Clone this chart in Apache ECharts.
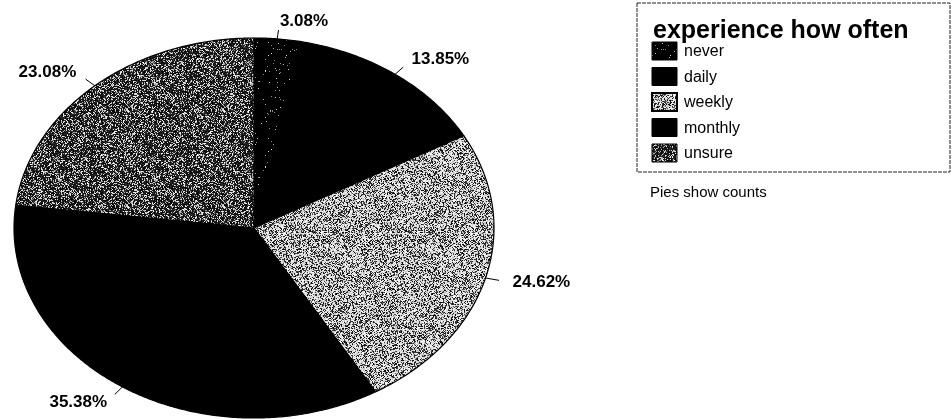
<!DOCTYPE html>
<html>
<head>
<meta charset="utf-8">
<script src="https://cdn.jsdelivr.net/npm/echarts@6/dist/echarts.min.js"></script>
<style>
  html, body { margin: 0; padding: 0; background: #ffffff; }
  #chart { width: 952px; height: 419px; }
</style>
</head>
<body>
<div id="chart"></div>
<script>
// Frequency categories and their share of responses (percent)
const categories = ['never', 'daily', 'weekly', 'monthly', 'unsure'];
const percents = [3.08, 13.85, 24.62, 35.38, 23.08];
const legendTitle = 'experience how often';
const footnote = 'Pies show counts';

// Elliptical pie geometry (pixels)
const cx = 254, cy = 228, rx = 240, ry = 190;

// Deterministic speckle texture so fills look like a halftone print
function speckle(kind, seed) {
  const size = 96;
  const c = document.createElement('canvas');
  c.width = size; c.height = size;
  const ctx = c.getContext('2d');
  const img = ctx.createImageData(size, size);
  let s = seed >>> 0;
  const rnd = () => { s = (s * 1664525 + 1013904223) >>> 0; return s / 4294967296; };
  for (let p = 0; p < size * size; p++) {
    const r = rnd();
    let v;
    if (kind === 'light') v = r < 0.38 ? Math.floor(rnd() * 90) : 190 + Math.floor(rnd() * 65);
    else if (kind === 'mid') v = r < 0.30 ? 150 + Math.floor(rnd() * 105) : Math.floor(rnd() * 50);
    else if (kind === 'sparse') v = r < 0.03 ? 120 + Math.floor(rnd() * 100) : 0;
    else v = 0;
    img.data[p * 4] = v; img.data[p * 4 + 1] = v; img.data[p * 4 + 2] = v; img.data[p * 4 + 3] = 255;
  }
  ctx.putImageData(img, 0, 0);
  return c;
}

const fills = {
  never: { image: speckle('sparse', 11), repeat: 'repeat' },
  daily: '#000000',
  weekly: { image: speckle('light', 23), repeat: 'repeat' },
  monthly: '#000000',
  unsure: { image: speckle('mid', 37), repeat: 'repeat' }
};

const total = percents.reduce((a, b) => a + b, 0);
const startAngles = [];
percents.reduce((acc, v, i) => { startAngles[i] = acc; return acc + v / total * 2 * Math.PI; }, 0);

function ellipsePoint(t, ex, ey) {
  return [cx + ex * Math.sin(t), cy - ey * Math.cos(t)];
}

function renderSlice(params, api) {
  const i = params.dataIndex;
  const a0 = startAngles[i];
  const a1 = a0 + api.value(0) / total * 2 * Math.PI;
  const n = Math.max(4, Math.ceil((a1 - a0) / 0.01));
  const pts = [[cx, cy]];
  for (let k = 0; k <= n; k++) pts.push(ellipsePoint(a0 + (a1 - a0) * k / n, rx, ry));
  return {
    type: 'polygon',
    shape: { points: pts },
    style: { fill: fills[categories[i]], stroke: '#000', lineWidth: 1.2 }
  };
}

function renderLabel(params, api) {
  const i = params.dataIndex;
  const a0 = startAngles[i];
  const mid = a0 + api.value(0) / total * Math.PI;
  const p0 = ellipsePoint(mid, rx, ry);
  const p1 = ellipsePoint(mid, rx + 14, ry + 9);
  const pt = ellipsePoint(mid, rx + 28, ry + 18);
  const right = Math.sin(mid) >= 0;
  return {
    type: 'group',
    children: [
      { type: 'line', shape: { x1: p0[0], y1: p0[1], x2: p1[0], y2: p1[1] },
        style: { stroke: '#000', lineWidth: 1 } },
      { type: 'text',
        style: { text: api.value(0).toFixed(2) + '%', x: pt[0], y: pt[1],
          align: right ? 'left' : 'right', verticalAlign: 'middle',
          font: 'bold 17px "Liberation Sans", Arial, sans-serif', fill: '#000' } }
    ]
  };
}

// Legend box drawn beside the pie
const legendX = 637, legendY = 3, rowY0 = 42, rowStep = 25.5;
const legendGraphics = [
  { type: 'rect', shape: { x: legendX, y: legendY, width: 313, height: 169 },
    style: { fill: '#fff', stroke: '#222', lineWidth: 1, lineDash: [4, 1] } },
  { type: 'text', style: { text: legendTitle, x: 653, y: 31, verticalAlign: 'middle',
      font: 'bold 25px "Liberation Sans", Arial, sans-serif', fill: '#000' } }
];
categories.forEach((name, i) => {
  const y = rowY0 + i * rowStep;
  legendGraphics.push({ type: 'rect', shape: { x: 652, y: y, width: 25, height: 18 },
    style: { fill: fills[name], stroke: '#000', lineWidth: name === 'weekly' ? 2 : 1 } });
  legendGraphics.push({ type: 'text', style: { text: name, x: 684, y: y + 10, verticalAlign: 'middle',
    font: '16px "Liberation Sans", Arial, sans-serif', fill: '#000' } });
});
legendGraphics.push({ type: 'text', style: { text: footnote, x: 650, y: 193, verticalAlign: 'middle',
  font: '15px "Liberation Sans", Arial, sans-serif', fill: '#000' } });

const chart = echarts.init(document.getElementById('chart'), null, { renderer: 'canvas' });
chart.setOption({
  animation: false,
  backgroundColor: '#ffffff',
  graphic: legendGraphics,
  series: [
    { type: 'custom', coordinateSystem: 'none', renderItem: renderSlice,
      data: percents.map((v, i) => ({ name: categories[i], value: [v] })), silent: true },
    { type: 'custom', coordinateSystem: 'none', renderItem: renderLabel,
      data: percents.map((v, i) => ({ name: categories[i], value: [v] })), silent: true, z: 3 }
  ]
});
</script>
</body>
</html>
